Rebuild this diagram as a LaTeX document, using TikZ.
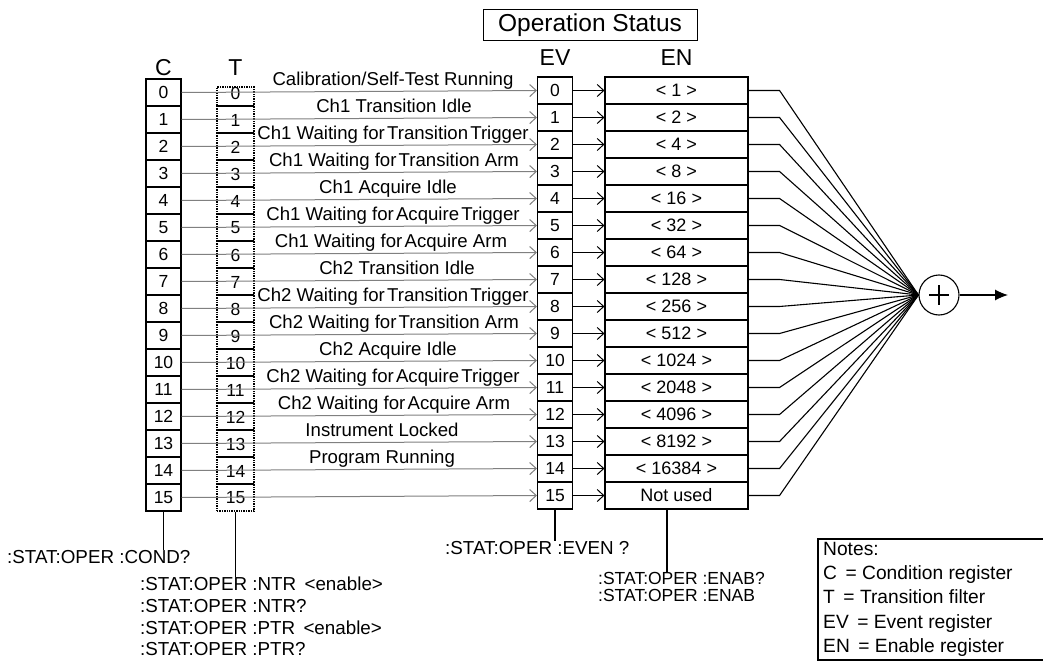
\documentclass[tikz,border=0pt]{standalone}
\usepackage{fontspec}
\setmainfont{Liberation Sans}
\usetikzlibrary{arrows.meta,calc}
\newcommand\tsp{\hspace{0.12em}}
\begin{document}
\begin{tikzpicture}[x=1bp,y=-1bp,
  cell/.style={draw, line width=1.1bp, minimum width=35bp, minimum height=27bp, inner sep=0pt, font=\fontsize{17.5bp}{17.5bp}\selectfont},
  tcell/.style={draw, line width=1.5bp, dash pattern=on 1.4bp off 1bp, minimum width=37bp, minimum height=27bp, inner sep=0pt},
  encell/.style={cell, minimum width=143bp, font=\fontsize{18bp}{18bp}\selectfont},
  digit/.style={inner sep=0pt, font=\fontsize{17.5bp}{17.5bp}\selectfont},
  head/.style={inner sep=0pt, font=\fontsize{23bp}{23bp}\selectfont},
  lbl/.style={inner sep=0pt, anchor=base, font=\fontsize{18.6bp}{19bp}\selectfont},
  cmd/.style={inner sep=0pt, font=\fontsize{18.8bp}{21.7bp}\selectfont, align=left},
  graylink/.style={draw=black!50, line width=1bp, -{Straight Barb[length=6.5bp,width=12bp]}},
  blacklink/.style={draw=black, line width=1bp, -{Straight Barb[length=6.5bp,width=12bp]}},
  sumline/.style={draw=black, line width=1.1bp},
  vline/.style={draw=black, line width=1.1bp}
]
\useasboundingbox[fill=white] (0,0) rectangle (1043,668);

% title
\node[draw, line width=1bp, minimum width=214bp, minimum height=31bp, inner sep=0pt,
      font=\fontsize{24.5bp}{24.5bp}\selectfont] (title) at (590,25.5) {Operation Status};

% headers
\node[head] (hC) at (163.5,68) {C};
\node[head] (hT) at (235.5,68) {T};
\node[head] (hEV) at (555,58) {EV};
\node[head] (hEN) at (676.5,58) {EN};

% C register
\foreach \i in {0,...,15} {
  \node[cell] (C\i) at (163.5,{92.5+27*\i}) {\i};
}
% T filter
\node[tcell, minimum height=19bp] (T0) at (235.5,96.5) {};
\foreach \i in {1,...,15} {
  \node[tcell] (T\i) at (235.5,{92.5+27*\i}) {};
}
\foreach \i in {0,...,15} {
  \node[digit] (Tn\i) at (235.5,{93+27*\i}) {\i};
}
% EV register
\foreach \i in {0,...,15} {
  \node[cell] (EV\i) at (555,{90.5+27*\i}) {\i};
}
% EN register
\foreach \v [count=\k from 0] in {1,2,4,8,16,32,64,128,256,512,1024,2048,4096,8192,16384} {
  \node[encell] (EN\k) at (676.5,{90.5+27*\k}) {< \v\ >};
}
\node[encell] (EN15) at (676.5,{90.5+27*15}) {Not used};

% C -> EV links and EV -> EN links
\foreach \i in {0,...,15} {
  \draw[graylink] (C\i.east) -- (EV\i.west);
  \draw[blacklink] (EV\i.east) -- (EN\i.west);
}

% labels
\node[lbl] (L0) at (393,{85.5}) {Calibration/Self-Test Running};
\node[lbl] (L1) at (394,{85.5+27*1}) {Ch1 Transition Idle};
\node[lbl] (L2) at (393,{85.5+27*2}) {Ch1 Waiting for\tsp Transition\tsp Trigger};
\node[lbl] (L3) at (394,{85.5+27*3}) {Ch1 Waiting for\tsp Transition Arm};
\node[lbl] (L4) at (388,{85.5+27*4}) {Ch1 Acquire Idle};
\node[lbl] (L5) at (393,{85.5+27*5}) {Ch1 Waiting for\tsp Acquire\tsp Trigger};
\node[lbl] (L6) at (391,{85.5+27*6}) {Ch1 Waiting for\tsp Acquire Arm};
\node[lbl] (L7) at (397,{85.5+27*7}) {Ch2 Transition Idle};
\node[lbl] (L8) at (393,{85.5+27*8}) {Ch2 Waiting for\tsp Transition\tsp Trigger};
\node[lbl] (L9) at (394,{85.5+27*9}) {Ch2 Waiting for\tsp Transition Arm};
\node[lbl] (L10) at (388,{85.5+27*10}) {Ch2 Acquire Idle};
\node[lbl] (L11) at (393,{85.5+27*11}) {Ch2 Waiting for\tsp Acquire\tsp Trigger};
\node[lbl] (L12) at (394,{85.5+27*12}) {Ch2 Waiting for\tsp Acquire Arm};
\node[lbl] (L13) at (382,{85.5+27*13}) {Instrument Locked};
\node[lbl] (L14) at (382,{85.5+27*14}) {Program Running};

% summing junction
\node[circle, draw, line width=1.1bp, minimum size=40bp, inner sep=0pt] (sum) at (939,295) {};
\draw[line width=1.1bp] ($(sum.center)+(-10,0)$) -- ($(sum.center)+(10,0)$)
                        ($(sum.center)+(0,-10)$) -- ($(sum.center)+(0,10)$);
\foreach \i in {0,...,15} {
  \draw[sumline] (EN\i.east) -- ++(31,0) -- (sum.west);
}
\coordinate (out) at (1008,295);
\draw[line width=1.1bp, -{Latex[length=13bp,width=11bp]}] (sum.east) -- (out);

% commands
\node[cmd, anchor=west] (cond) at (7,557) {:STAT:OPER :COND?};
\draw[vline] (C15.south) -- (C15.south |- cond.north);

\node[cmd, anchor=north west] (ntr) at (140,577)
  {:STAT:OPER :NTR \,<enable>\\:STAT:OPER :NTR?\\:STAT:OPER :PTR \,<enable>\\:STAT:OPER :PTR?};
\draw[vline] (T15.south) -- (T15.south |- ntr.north);

\node[cmd, anchor=west] (even) at (445,548) {:STAT:OPER :EVEN ?};
\draw[vline] (EV15.south) -- (EV15.south |- even.north);

\node[cmd, anchor=west, font=\fontsize{17.5bp}{17.5bp}\selectfont] (enab1) at (598,578) {:STAT:OPER :ENAB?};
\node[cmd, anchor=west, font=\fontsize{17.5bp}{17.5bp}\selectfont] (enab2) at (598,595.5) {:STAT:OPER :ENAB};
\coordinate (enTop) at ($(EN15.south)+(-9.5,0)$);
\draw[vline] (enTop) -- (enTop |- enab1.north);

% notes
\draw[line width=1.3bp] (1043,539) -- (818,539) -- (818,660) -- (1043,660);
\node[cmd, anchor=north west, font=\fontsize{19.2bp}{24.2bp}\selectfont] (notes) at (823,542)
  {Notes:\\C \,= Condition register\\T \,= Transition filter\\EV \,= Event register\\EN \,= Enable register};
\end{tikzpicture}
\end{document}
